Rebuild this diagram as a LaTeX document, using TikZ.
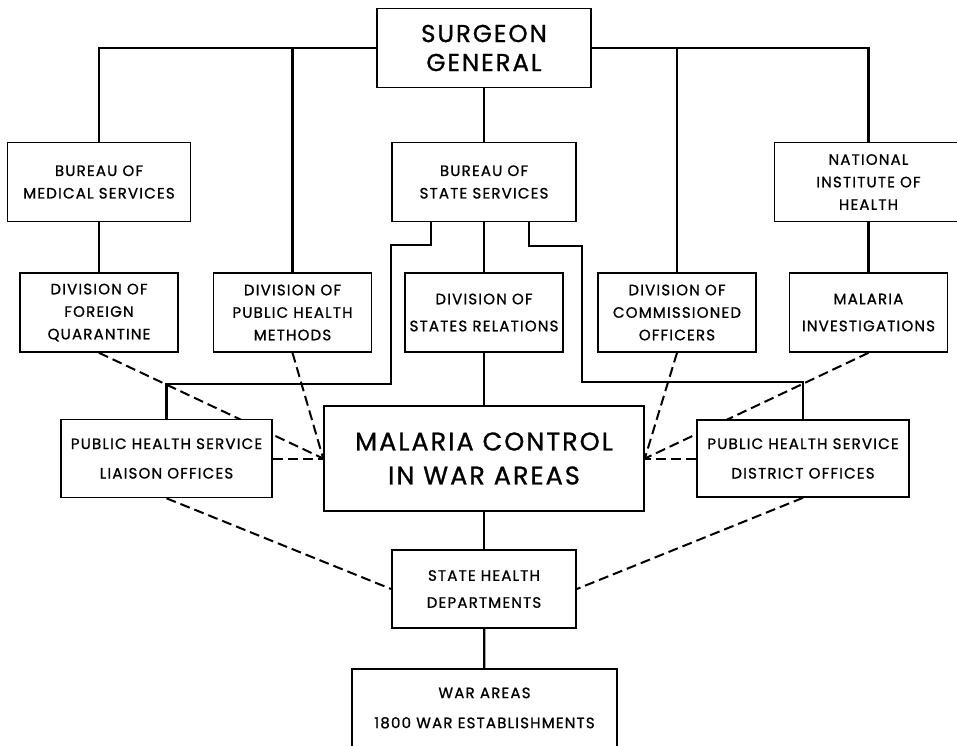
\documentclass[tikz,border=0pt]{standalone}
\usepackage{fontspec}
\setmainfont{Poppins}
\newfontfamily\chartfont[LetterSpace=8,FakeBold=1]{Poppins}
\usetikzlibrary{backgrounds}

\begin{document}
\begin{tikzpicture}[x=1pt,y=-1pt]
\useasboundingbox (0,0) rectangle (957,745);

\tikzset{vertex/.style = {shape=rectangle,draw,fill=white,line width=1.6pt,align=center,inner sep=0pt,minimum width=158pt,minimum height=79pt,font=\chartfont\fontsize{15}{22.5}\selectfont}}
\tikzset{edge/.style = {line width=2.2pt}}
\tikzset{link/.style = {line width=2pt,dash pattern=on 10pt off 5pt}}

\node[vertex,minimum width=214pt,font=\chartfont\fontsize{24.5}{29}\selectfont] (sg) at (484,48) {SURGEON\\GENERAL};

\node[vertex,minimum width=183pt] (bm) at (99,182) {BUREAU OF\\MEDICAL SERVICES};
\node[vertex,minimum width=184pt] (bs) at (484,182) {BUREAU OF\\STATE SERVICES};
\node[vertex,minimum width=188pt] (ni) at (868.5,182) {NATIONAL\\INSTITUTE OF\\HEALTH};

\node[vertex] (df) at (99,312.5) {DIVISION OF\\FOREIGN\\QUARANTINE};
\node[vertex] (dp) at (292.5,312.5) {DIVISION OF\\PUBLIC HEALTH\\METHODS};
\node[vertex] (ds) at (484,312.5) {DIVISION OF\\[4.5pt]STATES RELATIONS};
\node[vertex] (dc) at (677,312.5) {DIVISION OF\\COMMISSIONED\\OFFICERS};
\node[vertex] (mi) at (868.5,312.5) {MALARIA\\[4.5pt]INVESTIGATIONS};

\node[vertex,minimum width=211pt,minimum height=78pt] (pl) at (166.5,458.5) {PUBLIC HEALTH SERVICE\\[7pt]LIAISON OFFICES};
\node[vertex,minimum width=320pt,minimum height=105pt,font=\chartfont\fontsize{25.5}{34}\selectfont] (mc) at (484,458.5) {MALARIA CONTROL\\IN WAR AREAS};
\node[vertex,minimum width=212pt,minimum height=77pt] (pd) at (803,458.5) {PUBLIC HEALTH SERVICE\\[7pt]DISTRICT OFFICES};

\node[vertex,minimum width=184pt,minimum height=78pt] (sh) at (484,589) {STATE HEALTH\\[4.5pt]DEPARTMENTS};
\node[vertex,minimum width=265pt,minimum height=78pt] (wa) at (484.5,708) {WAR AREAS\\[7.5pt]1800 WAR ESTABLISHMENTS};

\begin{pgfonlayer}{background}
\draw[edge] (sg) -| (bm);
\draw[edge] (sg) -| (dp);
\draw[edge] (sg) -| (dc);
\draw[edge] (sg) -| (ni);
\draw[edge] (sg) -- (bs);
\draw[edge] (bm) -- (df);
\draw[edge] (ni) -- (mi);
\draw[edge] (bs) -- (ds);
\draw[edge] (ds) -- (mc);
\draw[edge] (mc) -- (sh);
\draw[edge] (sh) -- (wa);
\draw[edge] ([xshift=-53pt]bs.south) |- ++(-40,23) |- ([yshift=35pt]pl.north) -- (pl.north);
\draw[edge] ([xshift=45pt]bs.south) |- ++(53,24) |- ([yshift=37pt]pd.north) -- (pd.north);

\draw[link] (df.south) -- (mc.west);
\draw[link] (dp.south) -- (mc.west);
\draw[link] (pl.east) -- (mc.west);
\draw[link] (dc.south) -- (mc.east);
\draw[link] (mi.south) -- (mc.east);
\draw[link] (pd.west) -- (mc.east);
\draw[link] (pl.south) -- (sh.west);
\draw[link] (pd.south) -- (sh.east);
\end{pgfonlayer}

\end{tikzpicture}
\end{document}
